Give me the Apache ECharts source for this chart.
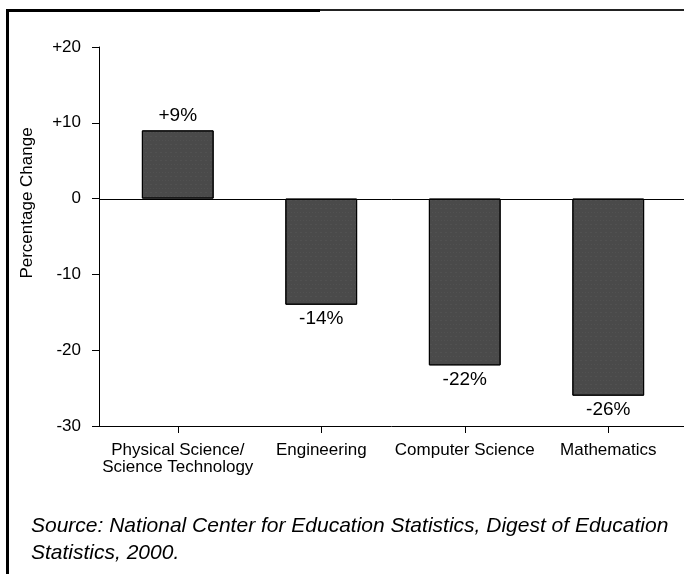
<!DOCTYPE html>
<html>
<head>
<meta charset="utf-8">
<script src="https://cdn.jsdelivr.net/npm/echarts@6/dist/echarts.min.js"></script>
<style>
  html, body { margin: 0; padding: 0; background: #fff; }
  #chart { width: 684px; height: 574px; }
</style>
</head>
<body>
<div id="chart"></div>
<script>
// data
var categories = ['Physical Science/\nScience Technology', 'Engineering', 'Computer Science', 'Mathematics']
var changes = [9, -14, -22, -26]
var yTicks = { min: -30, max: 20, interval: 10 }
var sourceLines = ['Source: National Center for Education Statistics, Digest of Education', 'Statistics, 2000.']

var font = 'Liberation Sans, Arial, sans-serif'
var chart = echarts.init(document.getElementById('chart'))

var option = {
  backgroundColor: '#fff',
  animation: false,
  grid: { left: 106, right: 4, top: 47, bottom: 148, containLabel: false },
  xAxis: {
    type: 'category',
    data: categories,
    axisLine: { show: false, onZero: false },
    axisTick: { show: true, alignWithLabel: true, length: 7, lineStyle: { color: '#000' } },
    axisLabel: { interval: 0, color: '#000', fontFamily: font, fontSize: 17, lineHeight: 17, margin: 16 },
    splitLine: { show: false }
  },
  yAxis: {
    type: 'value',
    offset: 7,
    min: yTicks.min,
    max: yTicks.max,
    interval: yTicks.interval,
    axisLine: { show: true, lineStyle: { color: '#000', width: 1 } },
    axisTick: { show: true, length: 7, lineStyle: { color: '#000' } },
    axisLabel: {
      color: '#000', fontFamily: font, fontSize: 17, margin: 18,
      formatter: function (v) { return v > 0 ? '+' + v : String(v) }
    },
    splitLine: { show: false }
  },
  series: [{
    type: 'bar',
    barWidth: '50%',
    itemStyle: {
      color: '#4a4a4a', borderColor: '#000', borderWidth: 1,
      // light speckle to hint at the grainy print texture
      decal: { symbol: 'rect', symbolSize: 0.35, color: 'rgba(255,255,255,0.25)', dashArrayX: [[1, 2], [2, 3]], dashArrayY: [1, 3], rotation: 0 }
    },
    label: {
      show: true,
      color: '#000',
      fontFamily: font,
      fontSize: 19,
      distance: 5,
      position: 'top',
      formatter: function (p) { return (p.value > 0 ? '+' : '') + p.value + '%' }
    }
  }],
  graphic: [
    // frame
    { type: 'rect', shape: { x: 6, y: 9, width: 3, height: 565 }, style: { fill: '#000' } },
    { type: 'rect', shape: { x: 6, y: 9, width: 314, height: 3 }, style: { fill: '#000' } },
    { type: 'rect', shape: { x: 320, y: 9, width: 364, height: 2 }, style: { fill: '#222' } },
    {
      type: 'text', x: 27, y: 203, rotation: Math.PI / 2,
      style: { text: 'Percentage Change', fill: '#000', font: '17px ' + font, textAlign: 'center', textVerticalAlign: 'middle' }
    },
    {
      type: 'text', left: 31, top: 513,
      style: { text: sourceLines.join('\n'), fill: '#000', font: 'italic 21px ' + font, lineHeight: 27 }
    }
  ]
}

// negative bars carry their label below the bar
option.series[0].data = changes.map(function (v) {
  return v < 0 ? { value: v, label: { position: 'bottom' } } : v
})
chart.setOption(option)

// zero line and bottom axis line run from the y axis to the right edge
var lines = [0, yTicks.min].map(function (v) {
  var y = Math.round(chart.convertToPixel({ gridIndex: 0 }, [0, v])[1]) + 0.5
  return { type: 'line', z: 10, shape: { x1: 99, y1: y, x2: 684, y2: y }, style: { stroke: '#000', lineWidth: 1 } }
})
chart.setOption({ graphic: option.graphic.concat(lines) })
</script>
</body>
</html>
